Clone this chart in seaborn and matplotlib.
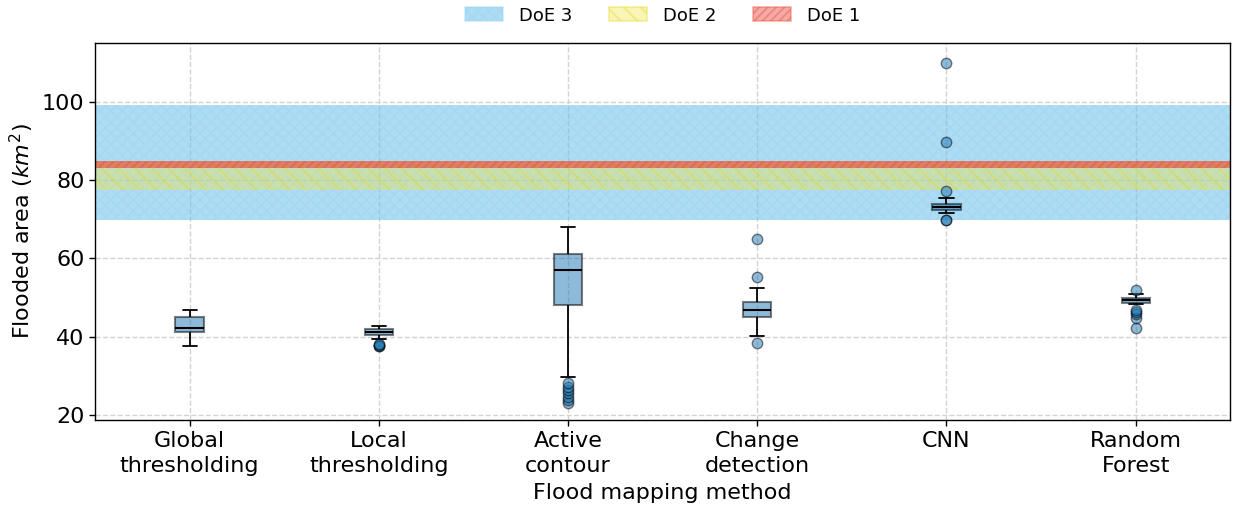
import matplotlib
matplotlib.use("Agg")
import matplotlib.pyplot as plt
import seaborn as sns
import pandas as pd
from matplotlib.patches import Patch

# ---- data ----
methods = ["Global\nthresholding", "Local\nthresholding", "Active\ncontour",
           "Change\ndetection", "CNN", "Random\nForest"]

global_thr = [37.8, 40.5, 41.2, 41.9, 42.2, 43.5, 45.05, 45.9, 46.8]
local_thr = [37.6, 37.8, 37.9, 38.1, 39.4, 40.6, 40.8, 40.9, 41.0, 41.1, 41.2,
             41.3, 41.5, 41.6, 41.8, 41.9, 42.0, 42.2, 42.4, 42.5, 42.7]
active_contour = [23.1, 24.0, 24.8, 25.6, 26.4, 27.3, 28.3, 29.7, 48.2,
                  49.5, 50.8, 52.0, 53.3, 54.5, 55.6, 56.4, 57.1,
                  57.6, 58.1, 58.6, 59.2, 59.8, 60.3, 60.8, 61.2,
                  62.0, 62.9, 63.8, 64.7, 65.6, 66.5, 67.3, 68.1]
change_det = [38.5, 40.2, 43.5, 45.0, 46.0, 46.5, 46.85, 47.5, 48.3, 49.0,
              52.4, 55.3, 65.0]
cnn = [69.8, 69.9, 71.5, 72.0, 72.4, 72.7, 72.9, 73.0, 73.2, 73.4, 73.6,
       73.8, 74.0, 75.3, 77.3, 89.6, 109.9]
random_forest = [42.3, 44.8, 45.9, 46.3, 46.8, 48.3, 48.7, 48.8, 48.9, 49.0,
                 49.1, 49.2, 49.3, 49.4, 49.5, 49.6, 49.7, 49.75, 49.8, 50.0,
                 50.3, 50.6, 50.8, 51.0, 52.0]

doe_labels = ["DoE 3", "DoE 2", "DoE 1"]
doe_low = [69.7, 77.5, 83.0]
doe_high = [99.1, 84.9, 84.9]

series = [global_thr, local_thr, active_contour, change_det, cnn, random_forest]
rows = []
for m, vals in zip(methods, series):
    for v in vals:
        rows.append({"method": m, "area": v})
df = pd.DataFrame(rows)

# ---- plot ----
sns.set_style("ticks")
plt.rcParams["font.family"] = ["DejaVu Sans"]
plt.rcParams["text.color"] = "black"
plt.rcParams["axes.labelcolor"] = "black"
plt.rcParams["xtick.color"] = "black"
plt.rcParams["ytick.color"] = "black"
plt.rcParams["hatch.linewidth"] = 1.3

fig, ax = plt.subplots(figsize=(12.34, 5.08), dpi=100)
fig.subplots_adjust(left=0.077, right=0.997, top=0.916, bottom=0.173)

band_styles = [
    dict(facecolor="#4db3e6", edgecolor="#9ad5f4", hatch="xxx", alpha=0.45),
    dict(facecolor="#f2e64d", edgecolor="#e8d820", hatch="\\\\", alpha=0.4),
    dict(facecolor="#e8413c", edgecolor="#ec5a40", hatch="////", alpha=0.6),
]
legend_alpha = [0.45, 0.4, 0.45]
handles = []
for lab, lo, hi, st, la in zip(doe_labels, doe_low, doe_high, band_styles, legend_alpha):
    ax.axhspan(lo, hi, linewidth=0, zorder=1, **st)
    hst = dict(st)
    hst["alpha"] = la
    handles.append(Patch(label=lab, linewidth=1.2, **hst))

sns.boxplot(data=df, x="method", y="area", order=methods, ax=ax,
            width=0.15, color="#1f77b4", saturation=1, whis=1.5,
            boxprops=dict(facecolor="#1f77b4", edgecolor="black", alpha=0.5,
                          linewidth=1.5),
            medianprops=dict(color="black", linewidth=1.5),
            whiskerprops=dict(color="black", linewidth=1.3),
            capprops=dict(color="black", linewidth=1.3),
            flierprops=dict(marker="o", markerfacecolor="#1f77b4",
                            markeredgecolor="black", alpha=0.5,
                            markersize=7.5, markeredgewidth=1.0))

ax.set_ylim(18.8, 115.0)
ax.set_xlim(-0.5, 5.5)
ax.set_yticks([20, 40, 60, 80, 100])
ax.grid(True, linestyle="--", color="#d3d3d3", linewidth=1.0)
ax.set_axisbelow(True)
for sp in ax.spines.values():
    sp.set_visible(True)
    sp.set_color("black")
    sp.set_linewidth(1.0)
ax.tick_params(axis="both", labelsize=16, colors="black", length=4, width=1)
for t in ax.get_xticklabels():
    t.set_linespacing(1.35)
ax.set_xlabel("Flood mapping method", fontsize=16, labelpad=5)
ax.set_ylabel("Flooded area ($km^2$)", fontsize=16, labelpad=4)

ax.legend(handles=handles, loc="lower center", bbox_to_anchor=(0.5, 1.0),
          ncol=3, frameon=False, fontsize=13, handlelength=2.1,
          handleheight=0.8, handletextpad=0.9, columnspacing=2.0,
          borderaxespad=0.6)

fig.savefig("out.png", dpi=100)
